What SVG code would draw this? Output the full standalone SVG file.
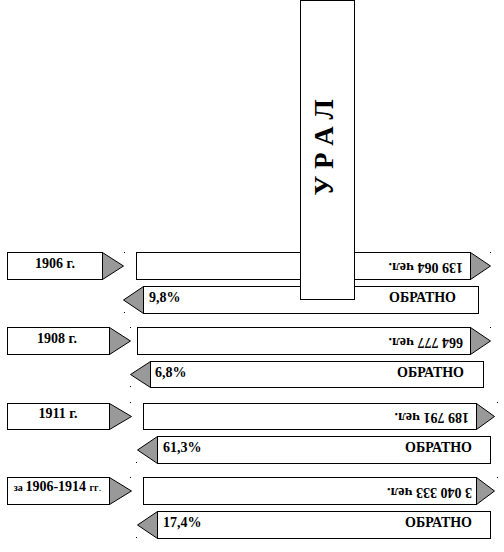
<svg xmlns="http://www.w3.org/2000/svg" width="504" height="552" viewBox="0 0 504 552">
<style>
.box{fill:#fff;stroke:#000;stroke-width:1}
.tri{fill:#999;stroke:#000;stroke-width:1}
.t{font-family:"Liberation Serif","Times New Roman",serif;font-weight:bold;font-size:14px;fill:#000}
.sm{font-size:10px}
.dot{fill:#000}
</style>
<rect width="504" height="552" fill="#fff"/>
<g id="connectors">
<polygon class="tri" points="102.5,252.5 123.5,266 102.5,279.5"/>
<polygon class="tri" points="109.5,327.5 130.5,341 109.5,354.5"/>
<polygon class="tri" points="109.5,403.5 131.5,416.5 109.5,429.5"/>
<polygon class="tri" points="109.5,477.5 131.5,491 109.5,504.5"/>
</g>
<g id="year-1906"><rect class="box" x="7.5" y="252.5" width="95" height="27"/><text class="t" x="55" y="268" text-anchor="middle">1906 г.</text></g>
<g id="year-1908"><rect class="box" x="7.5" y="327.5" width="102" height="27"/><text class="t" x="57" y="343" text-anchor="middle">1908 г.</text></g>
<g id="year-1911"><rect class="box" x="7.5" y="403.5" width="102" height="26"/><text class="t" x="58" y="418" text-anchor="middle">1911 г.</text></g>
<g id="year-1906-1914"><rect class="box" x="7.5" y="477.5" width="102" height="27"/><text class="t" x="57.5" y="491" text-anchor="middle"><tspan class="sm">за </tspan>1906-1914 <tspan class="sm">гг</tspan><tspan class="sm" font-weight="normal">.</tspan></text></g>
<g id="flow-1906"><rect class="box" x="136.5" y="252.5" width="334" height="27"/><polygon class="tri" points="470.5,252.5 490.5,266 470.5,279.5"/><text class="t" transform="translate(463,263) rotate(180)">139 064 чел.</text></g>
<g id="flow-1908"><rect class="box" x="137.5" y="327.5" width="333" height="27"/><polygon class="tri" points="470.5,327.5 490.5,341 470.5,354.5"/><text class="t" transform="translate(463,338) rotate(180)">664 777 чел.</text></g>
<g id="flow-1911"><rect class="box" x="143.5" y="403.5" width="333" height="26"/><polygon class="tri" points="476.5,403.5 494.5,416.5 476.5,429.5"/><text class="t" transform="translate(469,413) rotate(180)">189 791 чел.</text></g>
<g id="flow-1906-1914"><rect class="box" x="143.5" y="477.5" width="333" height="27"/><polygon class="tri" points="476.5,477.5 494.5,491 476.5,504.5"/><text class="t" transform="translate(472,488) rotate(180)">3 040 333 чел.</text></g>
<g id="back-1906"><rect class="box" x="143.5" y="286.5" width="335" height="27"/><polygon class="tri" points="143.5,286.5 123.5,300 143.5,313.5"/><text class="t" x="149" y="302">9,8%</text><text class="t" x="456" y="302" text-anchor="end">ОБРАТНО</text></g>
<g id="back-1908"><rect class="box" x="150.5" y="361.5" width="333" height="26"/><polygon class="tri" points="150.5,361.5 130.5,374.5 150.5,387.5"/><text class="t" x="155" y="377">6,8%</text><text class="t" x="464" y="377" text-anchor="end">ОБРАТНО</text></g>
<g id="back-1911"><rect class="box" x="157.5" y="436.5" width="333" height="27"/><polygon class="tri" points="157.5,436.5 137.5,450 157.5,463.5"/><text class="t" x="163" y="452">61,3%</text><text class="t" x="472" y="452" text-anchor="end">ОБРАТНО</text></g>
<g id="back-1906-1914"><rect class="box" x="157.5" y="511.5" width="333" height="27"/><polygon class="tri" points="157.5,511.5 137.5,525 157.5,538.5"/><text class="t" x="163" y="527">17,4%</text><text class="t" x="472" y="527" text-anchor="end">ОБРАТНО</text></g>
<g id="ural"><rect class="box" x="300.5" y="0.5" width="54" height="299"/><text class="t" style="font-size:27px" transform="translate(333,147.5) rotate(-90)" text-anchor="middle">У Р А Л</text></g>
<g id="marks">
<rect class="dot" x="124" y="252" width="1" height="1"/>
<rect class="dot" x="124" y="312" width="1" height="1"/>
<rect class="dot" x="130" y="327" width="1" height="1"/>
<rect class="dot" x="130" y="386" width="1" height="1"/>
<rect class="dot" x="130" y="402" width="1" height="1"/>
<rect class="dot" x="136" y="462" width="1" height="1"/>
<rect class="dot" x="130" y="477" width="1" height="1"/>
<rect class="dot" x="136" y="537" width="1" height="1"/>
<rect class="dot" x="490" y="252" width="1" height="1"/>
<rect class="dot" x="490" y="327" width="1" height="1"/>
<rect class="dot" x="497" y="402" width="1" height="1"/>
<rect class="dot" x="497" y="477" width="1" height="1"/>
</g>
</svg>
